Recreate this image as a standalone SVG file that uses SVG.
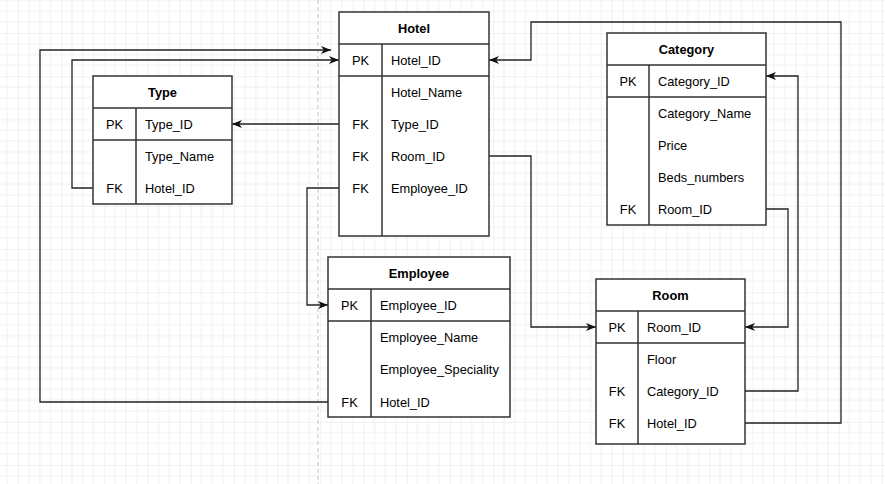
<svg xmlns="http://www.w3.org/2000/svg" width="885" height="484" viewBox="0 0 885 484">
  <defs>
    <pattern id="grid" x="-25.2" y="-10.2" width="43.2" height="43.2" patternUnits="userSpaceOnUse">
      <path d="M10.8 0V43.2M21.6 0V43.2M32.4 0V43.2M0 10.8H43.2M0 21.6H43.2M0 32.4H43.2" stroke="#f0f0f0" stroke-width="1" fill="none"/>
      <path d="M0 0V43.2M0 0H43.2" stroke="#e3e3e3" stroke-width="1" fill="none"/>
    </pattern>
    <marker id="arrow" markerUnits="userSpaceOnUse" markerWidth="11" markerHeight="9" refX="10" refY="4.5" orient="auto">
      <path d="M0,0.5 L10,4.5 L0,8.5 L2.8,4.5 z" fill="#111"/>
    </marker>
    <style>
      .tbl { fill: #fff; stroke: #333; stroke-width: 1.5; }
      .sep { stroke: #333; stroke-width: 1.5; fill: none; }
      .hd { font-family: "Liberation Sans", Arial, sans-serif; font-size: 12.8px; font-weight: bold; fill: #000; text-anchor: middle; }
      .key { font-family: "Liberation Sans", Arial, sans-serif; font-size: 12.8px; fill: #000; text-anchor: middle; }
      .fld { font-family: "Liberation Sans", Arial, sans-serif; font-size: 12.8px; fill: #000; }
      .edge { fill: none; stroke: #222; stroke-width: 1.3; }
      .arr { marker-end: url(#arrow); }
    </style>
  </defs>

  <!-- canvas grid and page break -->
  <rect width="885" height="484" fill="#fff"/>
  <rect width="885" height="484" fill="url(#grid)"/>
  <line x1="318" y1="0" x2="318" y2="484" stroke="#c4c4c4" stroke-width="1" stroke-dasharray="4 3"/>

  <!-- relationships -->
  <g id="connectors">
    <path class="edge arr" d="M339 124H232"/>
    <path class="edge arr" d="M93 188H72V60H339"/>
    <path class="edge arr" d="M328 402H40V50H331"/>
    <path class="edge arr" d="M339 188H307V305H328"/>
    <path class="edge arr" d="M489 156H531V327H596"/>
    <path class="edge arr" d="M766 209H788V327H745"/>
    <path class="edge arr" d="M745 391H798V76H766"/>
    <path class="edge arr" d="M745 423H841V22H531V60H489"/>
  </g>

  <!-- Hotel -->
  <g id="hotel">
    <rect class="tbl" x="339" y="12" width="150" height="224"/>
    <path class="sep" d="M339 44H489M339 76H489M382 44V236"/>
    <text class="hd" x="414" y="32.5">Hotel</text>
    <text class="key" x="360.5" y="64.5">PK</text>
    <text class="fld" x="391" y="64.5">Hotel_ID</text>
    <text class="fld" x="391" y="96.5">Hotel_Name</text>
    <text class="key" x="360.5" y="128.5">FK</text>
    <text class="fld" x="391" y="128.5">Type_ID</text>
    <text class="key" x="360.5" y="160.5">FK</text>
    <text class="fld" x="391" y="160.5">Room_ID</text>
    <text class="key" x="360.5" y="192.5">FK</text>
    <text class="fld" x="391" y="192.5">Employee_ID</text>
  </g>

  <!-- Type -->
  <g id="type">
    <rect class="tbl" x="93" y="76" width="139" height="128"/>
    <path class="sep" d="M93 108H232M93 140H232M136 108V204"/>
    <text class="hd" x="162.5" y="96.5">Type</text>
    <text class="key" x="114.5" y="128.5">PK</text>
    <text class="fld" x="145" y="128.5">Type_ID</text>
    <text class="fld" x="145" y="160.5">Type_Name</text>
    <text class="key" x="114.5" y="192.5">FK</text>
    <text class="fld" x="145" y="192.5">Hotel_ID</text>
  </g>

  <!-- Category -->
  <g id="category">
    <rect class="tbl" x="607" y="33" width="159" height="192"/>
    <path class="sep" d="M607 65H766M607 97H766M649 65V225"/>
    <text class="hd" x="686.5" y="53.5">Category</text>
    <text class="key" x="628" y="85.5">PK</text>
    <text class="fld" x="658" y="85.5">Category_ID</text>
    <text class="fld" x="658" y="117.5">Category_Name</text>
    <text class="fld" x="658" y="149.5">Price</text>
    <text class="fld" x="658" y="181.5">Beds_numbers</text>
    <text class="key" x="628" y="213.5">FK</text>
    <text class="fld" x="658" y="213.5">Room_ID</text>
  </g>

  <!-- Employee -->
  <g id="employee">
    <rect class="tbl" x="328" y="257" width="182" height="160"/>
    <path class="sep" d="M328 289H510M328 321H510M371 289V417"/>
    <text class="hd" x="419" y="277.5">Employee</text>
    <text class="key" x="349.5" y="309.5">PK</text>
    <text class="fld" x="380" y="309.5">Employee_ID</text>
    <text class="fld" x="380" y="341.5">Employee_Name</text>
    <text class="fld" x="380" y="374">Employee_Speciality</text>
    <text class="key" x="349.5" y="406.5">FK</text>
    <text class="fld" x="380" y="406.5">Hotel_ID</text>
  </g>

  <!-- Room -->
  <g id="room">
    <rect class="tbl" x="596" y="279" width="149" height="165"/>
    <path class="sep" d="M596 311H745M596 343H745M638 311V444"/>
    <text class="hd" x="670.5" y="299.5">Room</text>
    <text class="key" x="617" y="331.5">PK</text>
    <text class="fld" x="647" y="331.5">Room_ID</text>
    <text class="fld" x="647" y="363.5">Floor</text>
    <text class="key" x="617" y="395.5">FK</text>
    <text class="fld" x="647" y="395.5">Category_ID</text>
    <text class="key" x="617" y="427.5">FK</text>
    <text class="fld" x="647" y="427.5">Hotel_ID</text>
  </g>
</svg>
